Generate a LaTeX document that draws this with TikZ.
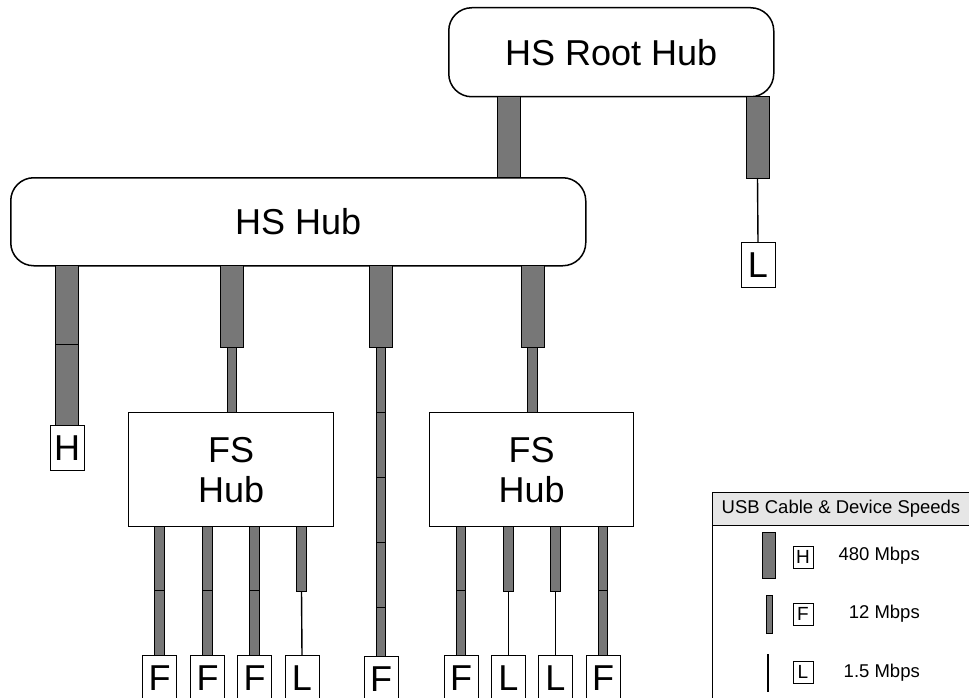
\documentclass[tikz,border=0pt]{standalone}
\usepackage{fontspec}
\setmainfont{Liberation Sans}
\definecolor{cablegray}{HTML}{777777}
\definecolor{headgray}{HTML}{E6E6E6}
\newcommand\cab[4]{\draw[seg] (#1-#4/2,#2) rectangle (#1+#4/2,#3);}
\begin{document}
\begin{tikzpicture}[x=1pt,y=-1pt,
  hub/.style={draw,line width=1.5pt,rounded corners=23pt,fill=white,inner sep=0pt,font=\fontsize{36}{40}\selectfont},
  fshub/.style={draw,line width=1.3pt,fill=white,inner sep=0pt,align=center,font=\fontsize{36}{40}\selectfont},
  dev/.style={draw,line width=0.8pt,fill=white,inner sep=0pt,minimum width=34pt,minimum height=45pt,font=\fontsize{36}{36}\selectfont},
  ldev/.style={draw,line width=0.7pt,fill=white,inner sep=0pt,minimum width=20pt,minimum height=22pt,font=\fontsize{19}{19}\selectfont},
  seg/.style={draw,line width=0.8pt,fill=cablegray},
  wire/.style={draw,line width=1.4pt},
  ltext/.style={font=\fontsize{18.5}{20}\selectfont,inner sep=0pt}]
\useasboundingbox (0,0) rectangle (969,698);

% hubs
\node[hub,minimum width=325pt,minimum height=89pt,anchor=north west] (root) at (448,7) {HS Root Hub};
\node[hub,minimum width=575pt,minimum height=88pt,anchor=north west] (hs) at (10,177) {HS Hub};
\node[fshub,minimum width=205pt,minimum height=114pt,anchor=north west] (fs1) at (128,412) {FS\\Hub};
\node[fshub,minimum width=204pt,minimum height=114pt,anchor=north west] (fs2) at (429,412) {FS\\Hub};

% root -> HS hub
\cab{509}{96}{177}{23}
% root -> L
\cab{757.5}{96}{178}{23}
\node[dev,anchor=north] (rl) at (758,242) {L};
\draw[wire] (757.5,178) -- (rl.north);

% HS hub -> H
\cab{66.5}{265}{344}{23}
\cab{66.5}{344}{425}{23}
\node[dev,anchor=north] (dh) at (67,425) {H};

% HS hub -> FS1
\cab{231.5}{265}{347}{23}
\cab{232}{347}{412}{9.5}

% HS hub -> middle F
\cab{381}{265}{347}{23}
\cab{381}{347}{412}{9.5}
\cab{381}{412}{477}{9.5}
\cab{381}{477}{542}{9.5}
\cab{381}{542}{607}{9.5}
\cab{381}{607}{656}{9.5}
\node[dev,anchor=north] (dm) at (381,656) {F};

% HS hub -> FS2
\cab{532.5}{265}{347}{23}
\cab{532.5}{347}{412}{9.5}

% FS1 ports
\foreach \x/\n in {159.5/a,207.5/b,254.5/c}{
  \cab{\x}{526}{590}{9.5}
  \cab{\x}{590}{655}{9.5}
  \node[dev,anchor=north] (f1\n) at (\x,655) {F};
}
\cab{301.5}{526}{591}{9.5}
\node[dev,anchor=north] (f1d) at (302,655) {L};
\draw[wire] (301.5,591) -- (f1d.north);

% FS2 ports
\foreach \x/\n in {461/a,603/d}{
  \cab{\x}{526}{590}{9.5}
  \cab{\x}{590}{655}{9.5}
  \node[dev,anchor=north] (f2\n) at (\x,655) {F};
}
\foreach \x/\n in {508.5/b,555.5/c}{
  \cab{\x}{526}{591}{9.5}
  \node[dev,anchor=north] (f2\n) at (\x,655) {L};
  \draw[wire] (\x,591) -- (f2\n.north);
}

% legend
\draw[line width=1pt,fill=headgray] (712,492) rectangle (975,525);
\draw[line width=1pt] (712,525) rectangle (975,710);
\node[ltext] (lhead) at (841,508.5) {USB Cable \& Device Speeds};
\draw[seg] (762,532) rectangle (775,578);
\node[ldev] (lh) at (803,557) {H};
\node[ltext,anchor=east] (lht) at (920,556) {480 Mbps};
\draw[seg] (766,595) rectangle (772,633);
\node[ldev] (lf) at (803,614) {F};
\node[ltext,anchor=east] (lft) at (920,614) {12 Mbps};
\draw[wire] (768,654) -- (768,692);
\node[ldev] (ll) at (803,672) {L};
\node[ltext,anchor=east] (llt) at (920,673) {1.5 Mbps};
\end{tikzpicture}
\end{document}
